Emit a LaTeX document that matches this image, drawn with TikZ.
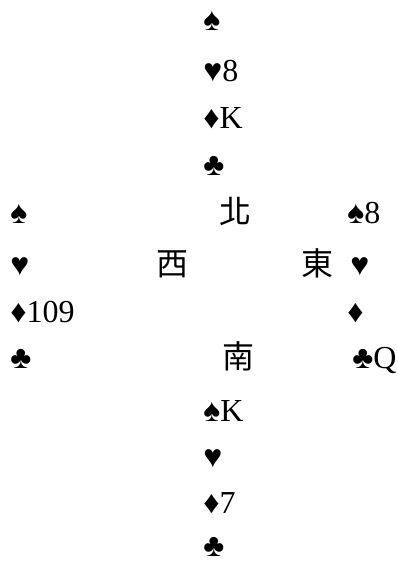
\documentclass[tikz,border=0pt]{standalone}
\usepackage{fontspec}
\setmainfont{Liberation Serif}
\newfontfamily\cjk{Noto Sans CJK TC}
\usetikzlibrary{positioning}
\tikzset{
    card/.style={anchor=base west, inner sep=0pt,
        font=\fontsize{24}{24}\selectfont},
    seat/.style={anchor=base, inner sep=0pt,
        font=\cjk\fontsize{24}{24}\selectfont},
}
\begin{document}
\begin{tikzpicture}[x=0.75pt, y=-0.75pt]
    \useasboundingbox (0, 0) rectangle (398, 561);

    % North hand
    \foreach \i/\ypos/\cards in {1/30/{♠}, 2/81/{♥8}, 3/128/{♦K}, 4/175/{♣}}{
        \node[card] (north\i) at (203, \ypos) {\cards};
    }
    % West hand
    \foreach \i/\ypos/\cards in {1/223/{♠}, 2/275/{♥}, 3/322/{♦109}, 4/368/{♣}}{
        \node[card] (west\i) at (10, \ypos) {\cards};
    }
    % East hand
    \foreach \i/\xpos/\ypos/\cards in {1/347/223/{♠8}, 2/350/275/{♥},
            3/347/322/{♦}, 4/352/368/{♣Q}}{
        \node[card] (east\i) at (\xpos, \ypos) {\cards};
    }
    % South hand
    \foreach \i/\ypos/\cards in {1/421/{♠K}, 2/467/{♥}, 3/513/{♦7}, 4/556/{♣}}{
        \node[card] (south\i) at (203, \ypos) {\cards};
    }

    % Seats
    \node[seat] (northseat) at (235, 223) {北};
    \node[seat] (westseat) at (172, 275) {西};
    \node[seat] (eastseat) at (317, 275) {東};
    \node[seat] (southseat) at (238, 368) {南};
\end{tikzpicture}
\end{document}
